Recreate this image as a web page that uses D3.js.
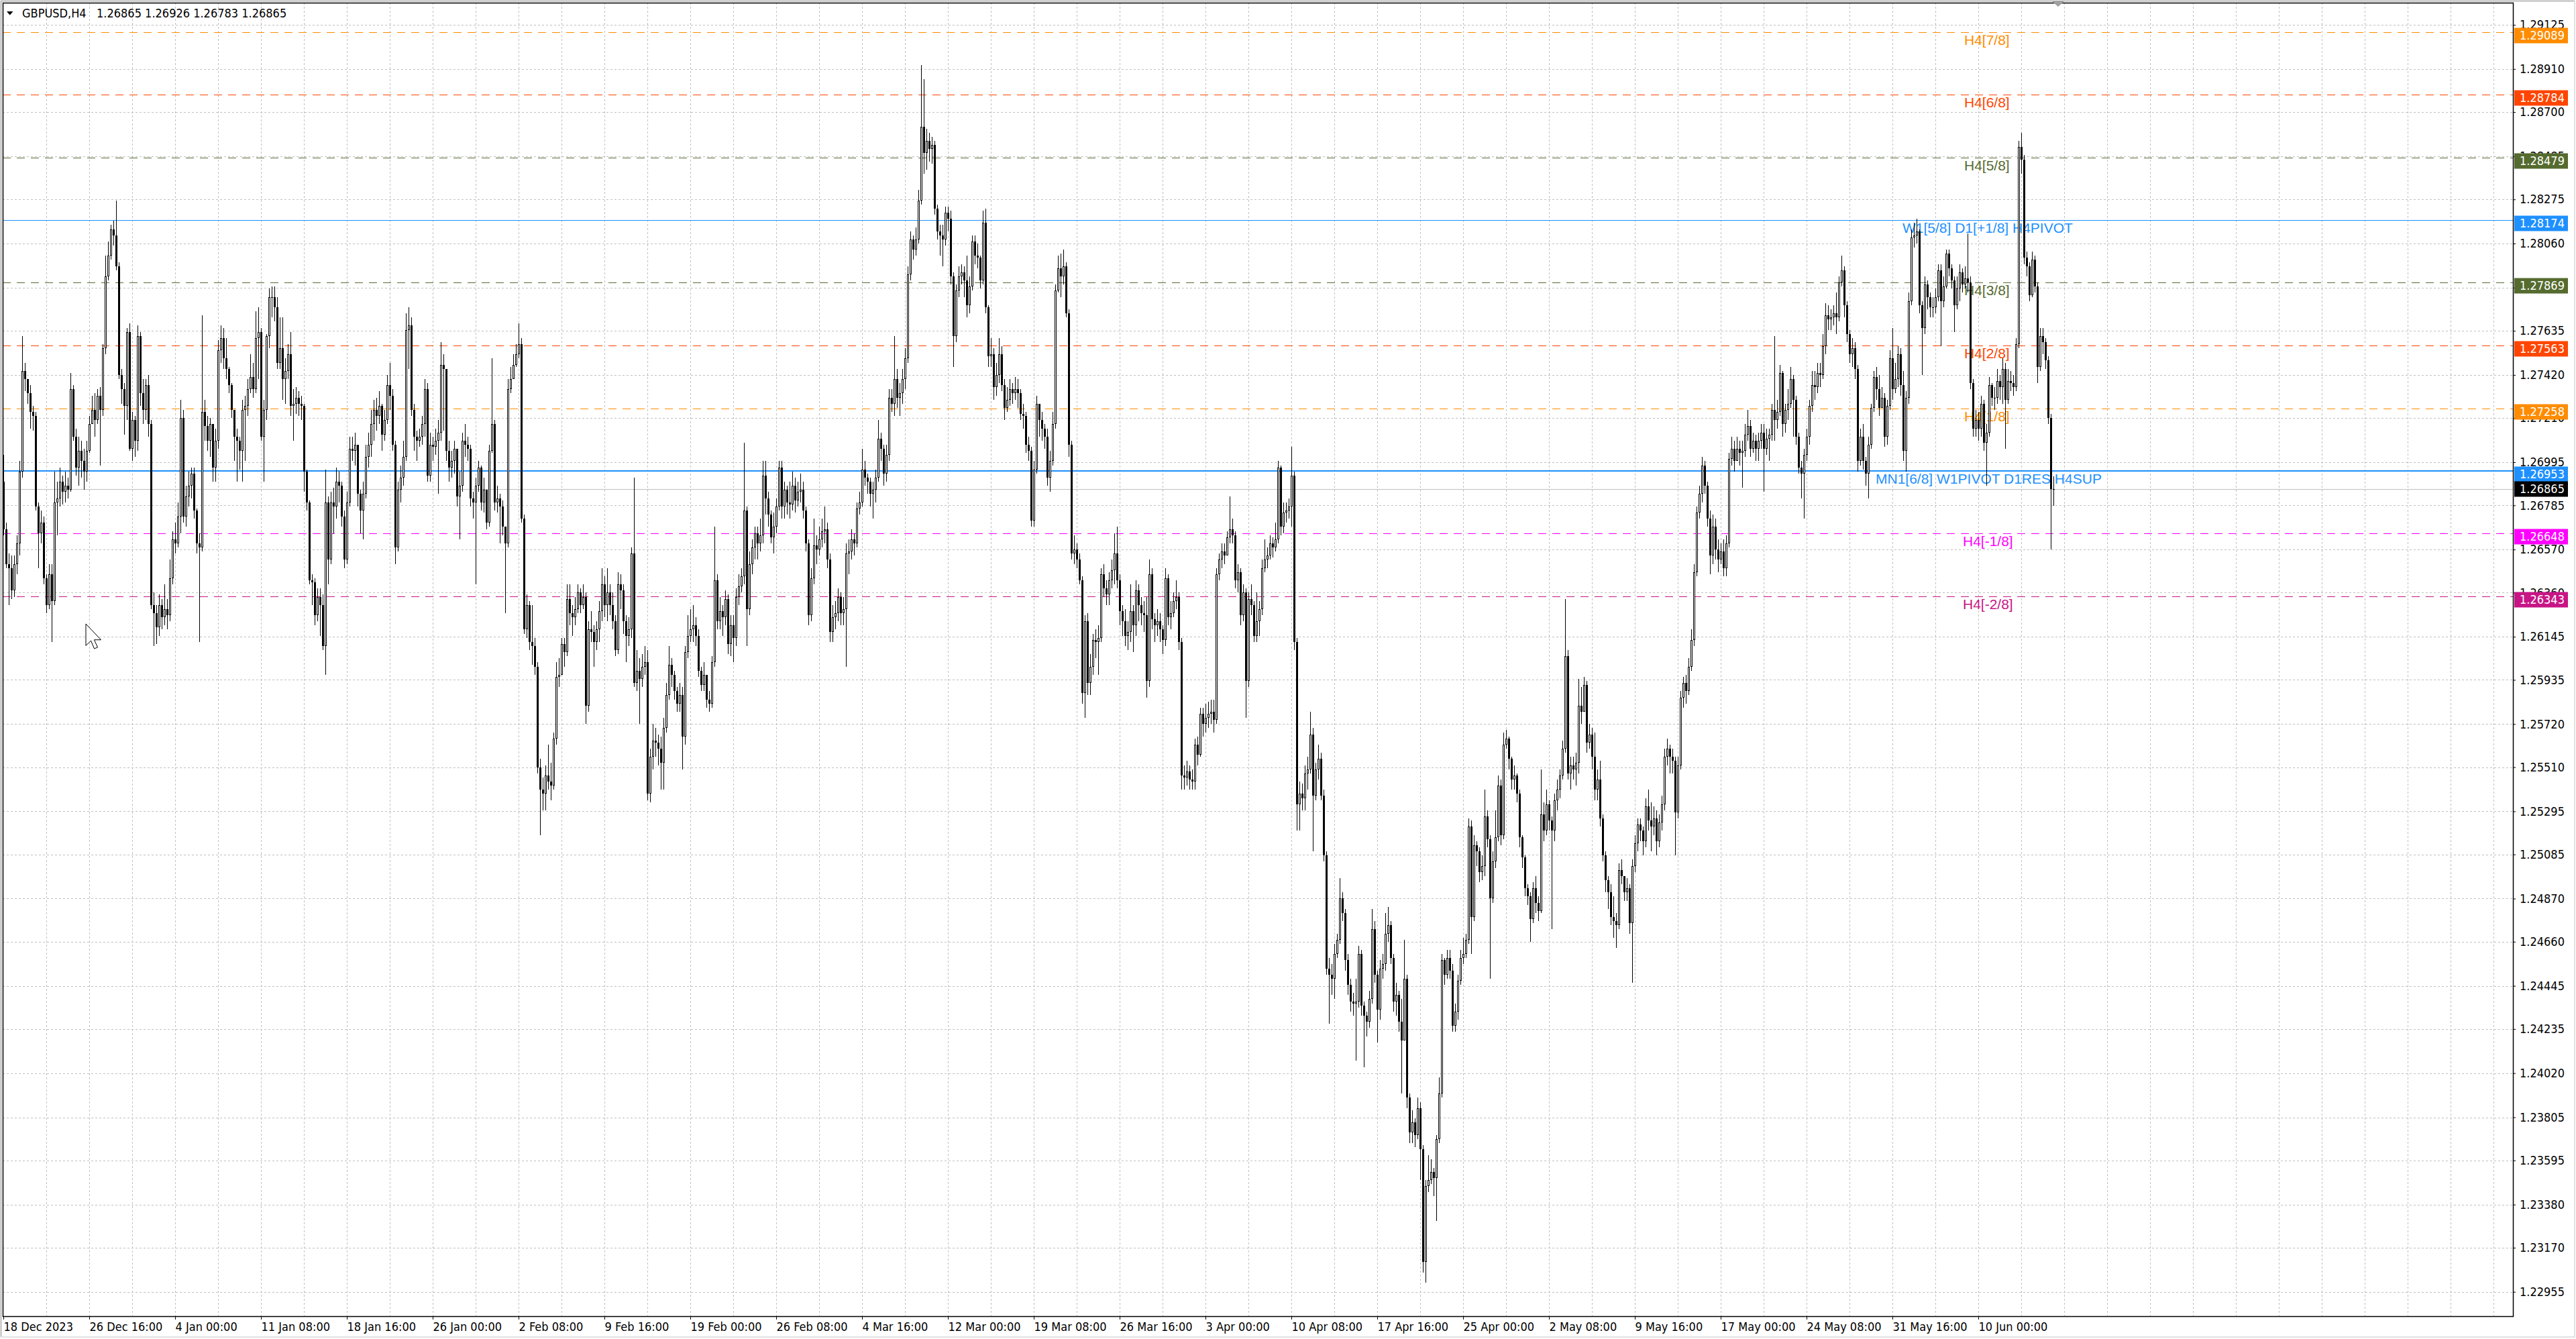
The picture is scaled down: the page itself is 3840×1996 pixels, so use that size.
<!DOCTYPE html>
<html>
<head>
<meta charset="utf-8">
<script src="https://cdn.jsdelivr.net/npm/d3@7"></script>
<style>
html, body { margin: 0; padding: 0; background: #fff; }
svg { display: block; }
</style>
</head>
<body>
<svg id="chart" width="3840" height="1996"></svg>
<script>
// GBPUSD H4, values in pips above 1.2000 (1.2 + v / 10000)
// open of a bar = close of the bar before it
var firstOpen = 690;

var closes = [
667,650,648,637,650,660,695,744,740,733,
724,722,678,665,670,643,630,645,632,680,
682,690,685,688,686,735,712,697,705,700,
695,705,718,725,720,732,725,755,790,800,
813,810,795,742,735,727,763,706,720,710,
761,733,725,737,718,630,626,619,630,624,
628,625,643,662,660,673,721,673,683,688,
694,676,660,658,724,717,710,718,697,710,
754,760,750,745,737,725,712,710,705,725,
727,735,741,735,760,763,712,725,761,780,
780,775,748,755,740,744,752,727,728,731,
728,727,695,680,642,641,625,634,630,610,
680,652,680,678,690,688,673,652,680,706,
705,708,684,676,684,702,708,718,725,722,
727,713,720,737,732,708,658,686,692,702,
764,766,725,712,710,712,718,735,693,708,
707,710,714,747,745,705,697,700,706,683,
688,710,708,706,682,680,688,697,680,686,
670,705,718,680,682,678,668,660,735,740,
747,752,757,672,618,630,612,610,600,551,
540,538,547,544,542,565,595,596,611,607,
633,626,624,628,636,630,634,581,618,617,
612,618,627,640,630,636,630,622,608,640,
637,622,615,618,655,592,598,594,600,602,
538,556,564,563,560,553,570,586,601,596,
588,582,586,566,607,615,618,620,615,598,
591,596,584,582,602,642,622,627,624,633,
611,620,614,634,639,644,676,628,650,658,
665,660,664,693,682,674,663,668,678,697,
678,686,680,679,688,681,685,686,676,660,
625,643,659,657,662,666,667,652,617,624,
626,634,626,628,655,656,662,660,677,680,
696,692,690,684,686,692,711,706,694,703,
731,728,740,731,733,740,750,791,808,803,
808,827,863,850,856,852,854,823,812,810,
808,821,818,790,761,783,790,792,788,776,
785,807,800,799,788,816,775,751,752,736,
742,752,737,726,730,735,733,735,733,723,
722,708,705,671,696,728,720,716,712,692,
700,718,783,794,790,795,772,708,655,657,
652,642,587,622,592,600,613,612,614,645,
638,635,642,647,655,642,627,622,615,617,
627,620,637,630,626,625,593,645,623,620,
622,618,613,643,624,626,632,634,612,547,
546,549,545,544,562,557,577,572,575,577,
578,574,645,652,656,654,663,667,664,642,
646,625,636,593,633,630,615,622,628,648,
652,654,660,658,662,697,668,675,676,678,
693,612,533,538,536,548,550,567,537,550,
555,537,508,453,450,448,460,467,487,480,
457,445,437,436,437,460,435,430,427,438,
472,450,433,453,455,470,474,458,437,440,
427,418,448,390,373,378,372,385,365,310,
347,350,354,351,370,392,457,450,458,452,
425,432,447,458,460,467,522,478,513,510,
500,503,527,516,487,505,517,542,518,562,
565,555,545,547,538,517,507,492,488,477,
492,485,481,528,520,533,525,520,535,540,
547,560,605,548,552,550,553,581,578,591,
563,567,556,540,545,526,508,496,490,478,
476,474,501,498,490,492,475,503,514,523,
520,515,532,525,522,526,515,524,533,556,
560,556,554,529,552,585,592,588,600,613,
646,675,684,698,688,672,654,668,657,652,
656,648,660,701,706,700,706,704,705,713,
717,706,710,706,710,714,706,711,713,725,
720,724,743,718,725,728,740,730,712,697,
694,703,712,727,737,736,743,742,756,771,
769,770,772,770,787,793,776,762,752,755,
745,700,712,700,694,708,726,741,735,726,
731,712,727,750,735,740,752,737,705,731,
778,809,810,812,776,765,786,780,775,775,
780,793,778,785,801,794,788,776,784,792,
786,789,787,738,716,720,716,728,709,714,
737,731,731,739,736,745,730,739,738,736,
757,853,847,799,795,781,798,785,746,761,
758,749,721,686.5,686.5
];

var highs = [
703,670,655,654,654,664,700,761,748,740,
737,727,724,680,676,673,645,650,650,695,
690,697,693,695,692,743,737,716,712,710,
706,710,722,732,733,735,736,757,800,807,
815,817,827,797,745,738,765,767,724,722,
766,763,740,740,742,720,636,630,635,633,
640,633,652,666,670,680,730,725,688,695,
697,697,677,665,771,730,722,721,718,716,
759,766,765,760,746,738,722,716,712,730,
732,740,752,748,773,775,765,730,762,784,
785,785,780,770,770,750,757,763,735,736,
734,732,728,696,681,645,643,638,638,635,
696,683,685,687,697,695,690,676,685,712,
712,714,700,686,690,708,714,725,730,731,
734,728,725,742,748,735,710,690,698,710,
772,775,770,728,715,716,722,740,738,714,
712,716,720,758,752,740,710,705,710,700,
695,714,718,712,708,685,692,700,698,692,
680,708,750,720,688,684,681,668,740,746,
752,757,767,760,674,635,632,630,614,602,
555,546,552,562,553,568,602,604,614,614,
640,640,630,634,640,638,640,636,622,627,
620,622,632,648,644,648,640,636,625,646,
645,640,625,624,658,692,608,604,606,610,
608,560,572,570,567,566,575,592,610,604,
598,590,592,590,610,625,628,630,624,618,
600,602,592,588,605,668,645,634,630,637,
635,625,625,638,645,648,709,678,656,662,
668,668,672,700,700,685,676,675,682,700,
700,690,688,690,695,692,690,694,690,678,
662,648,672,664,668,672,678,670,655,630,
632,638,636,634,660,662,667,665,680,685,
706,700,694,692,690,696,720,714,708,708,
735,735,761,745,738,745,755,795,812,810,
814,832,893,886,862,860,858,856,825,815,
815,824,824,822,792,786,795,796,795,800,
790,810,810,806,800,822,823,776,760,755,
748,760,756,740,736,740,738,741,740,735,
728,724,712,707,700,732,728,724,718,716,
705,724,786,800,801,803,797,774,710,664,
660,655,644,625,626,606,616,618,620,648,
650,642,646,652,665,668,645,630,628,622,
640,630,642,640,634,632,634,652,648,626,
628,626,620,648,645,632,636,642,636,614,
552,554,552,550,565,566,580,580,582,583,
584,584,648,655,660,660,666,683,672,666,
650,648,640,638,636,640,632,636,632,652,
662,658,664,663,670,700,698,680,680,682,
707,695,614,544,543,552,556,578,570,553,
562,558,540,510,458,455,465,470,497,490,
482,460,448,441,448,464,462,437,432,442,
482,476,452,457,460,480,483,476,460,446,
442,438,467,450,392,384,380,390,388,367,
350,362,360,356,372,400,460,458,462,462,
455,436,450,462,468,470,526,525,518,515,
512,508,540,530,518,510,530,547,545,568,
569,566,556,552,548,540,518,508,494,490,
495,498,488,550,534,540,535,527,538,545,
550,564,633,608,556,556,558,594,590,595,
593,572,570,568,550,554,528,510,498,494,
488,480,504,506,498,497,494,506,518,526,
526,522,536,540,534,532,530,528,537,560,
565,562,560,556,556,588,595,596,604,618,
650,678,688,702,700,690,676,674,672,662,
660,662,664,704,712,710,712,710,710,718,
725,720,714,713,714,718,718,716,716,728,
761,730,747,744,728,735,746,742,732,714,
700,706,716,730,744,744,748,748,762,777,
776,774,776,782,790,800,795,778,764,760,
758,747,716,718,702,712,728,744,746,742,
736,733,730,754,765,748,756,755,744,734,
782,813,816,818,813,778,790,788,782,780,
784,796,796,790,803,803,796,790,790,796,
794,795,811,790,740,725,724,732,730,718,
741,738,736,745,742,750,748,745,744,742,
760,856,860,849,802,797,802,800,787,765,
765,760,751,723,692.6
];

var lows = [
664,648,630,633,634,645,654,692,734,728,
716,715,676,648,660,640,626,628,612,630,
664,678,679,680,682,685,710,693,688,692,
686,690,704,718,712,718,698,722,752,788,
798,805,793,740,728,713,720,705,700,702,
705,727,718,720,712,628,610,611,615,618,
620,618,622,640,655,658,665,670,668,678,
682,672,655,612,656,710,705,702,690,690,
706,748,745,740,733,721,700,690,696,690,
700,722,733,731,733,740,710,690,720,755,
770,768,745,745,730,728,740,722,710,723,
722,720,685,676,640,630,620,622,615,608,
596,640,650,665,672,680,668,648,650,678,
700,698,678,665,662,682,697,702,710,715,
718,705,710,718,725,705,650,656,680,688,
700,745,722,705,700,707,708,712,690,690,
700,703,684,710,715,700,690,692,694,678,
662,685,702,700,678,672,640,685,676,675,
667,668,704,676,675,660,664,626,658,733,
740,746,750,670,616,614,608,601,596,548,
518,530,530,540,535,540,562,590,596,600,
605,620,615,620,626,626,628,572,578,612,
600,608,612,622,624,622,625,618,605,606,
628,616,602,610,614,590,588,572,590,596,
535,534,550,556,552,540,540,568,584,590,
584,578,578,550,562,604,612,612,610,595,
588,588,580,578,580,600,618,618,615,620,
606,605,602,610,630,636,640,610,625,645,
652,652,656,660,674,668,660,655,665,676,
672,672,674,672,676,675,678,680,672,656,
620,622,640,650,654,658,660,648,612,612,
618,622,620,620,600,645,652,654,658,674,
678,688,684,678,672,680,690,700,688,690,
700,724,722,726,722,728,735,748,788,798,
800,806,825,840,842,846,845,820,808,800,
795,805,812,786,746,758,780,786,780,770,
772,783,796,794,784,786,772,746,746,730,
732,738,734,720,724,727,728,730,726,720,
716,704,700,668,668,694,712,710,706,688,
685,698,716,782,780,786,770,702,652,650,
648,640,582,575,586,586,596,604,596,612,
634,630,630,638,640,638,620,615,610,608,
612,607,615,622,620,617,585,590,618,612,
615,612,606,610,620,618,624,628,608,540,
540,542,540,540,540,552,556,566,568,570,
572,568,572,642,648,650,654,660,660,638,
636,620,622,575,590,625,612,612,615,625,
646,648,652,653,656,660,664,665,670,672,
668,608,520,520,530,530,540,548,510,535,
545,535,505,450,426,440,438,458,465,476,
452,440,432,430,408,434,430,405,420,424,
436,446,417,428,448,452,466,455,432,430,
422,392,430,385,368,368,366,370,350,305,
300,344,348,342,330,368,390,445,448,448,
422,422,428,445,455,458,465,460,476,503,
495,496,498,512,448,485,502,515,513,516,
560,550,540,540,534,512,502,488,484,466,
475,480,476,480,515,518,520,472,515,530,
536,545,558,545,540,545,542,548,572,578,
558,560,550,535,535,522,505,490,482,474,
468,463,472,494,486,486,470,446,500,510,
515,508,512,520,510,518,508,512,520,530,
552,548,548,508,526,550,580,582,586,598,
610,644,672,680,684,668,645,650,652,646,
650,644,644,658,698,695,700,698,687,702,
710,702,704,700,700,706,685,703,700,710,
710,716,722,712,714,720,726,712,708,694,
682,672,700,708,724,730,733,736,740,752,
764,764,766,762,768,785,770,758,748,746,
740,695,698,696,688,682,706,724,730,722,
726,707,708,725,730,733,736,732,700,695,
728,776,804,806,772,742,762,774,770,770,
772,778,756,775,784,790,784,763,774,778,
782,784,782,735,712,712,710,712,705,688,
712,727,725,728,730,728,706,728,734,732,
734,755,840,796,790,778,780,782,738,744,
752,745,718,657,678.3
];

// bottom axis labels, one every 32 bars
var timeLabels = ["18 Dec 2023", "26 Dec 16:00", "4 Jan 00:00", "11 Jan 08:00", "18 Jan 16:00",
    "26 Jan 00:00", "2 Feb 08:00", "9 Feb 16:00", "19 Feb 00:00", "26 Feb 08:00", "4 Mar 16:00",
    "12 Mar 00:00", "19 Mar 08:00", "26 Mar 16:00", "3 Apr 00:00", "10 Apr 08:00", "17 Apr 16:00",
    "25 Apr 00:00", "2 May 08:00", "9 May 16:00", "17 May 00:00", "24 May 08:00", "31 May 16:00",
    "10 Jun 00:00"];

var priceTicks = [1.29125, 1.28910, 1.28700, 1.28485, 1.28275, 1.28060, 1.27845, 1.27635,
    1.27420, 1.27210, 1.26995, 1.26785, 1.26570, 1.26360, 1.26145, 1.25935, 1.25720, 1.25510,
    1.25295, 1.25085, 1.24870, 1.24660, 1.24445, 1.24235, 1.24020, 1.23805, 1.23595, 1.23380,
    1.23170, 1.22955];

// murrey / pivot levels drawn as horizontal lines
var levelNames = ["H4[7/8]", "H4[6/8]", "H4[5/8]", "W1[5/8] D1[+1/8] H4PIVOT", "H4[3/8]",
    "H4[2/8]", "H4[1/8]", "MN1[6/8] W1PIVOT D1RES H4SUP", "H4[-1/8]", "H4[-2/8]"];
var levelPrices = [1.29089, 1.28784, 1.28479, 1.28174, 1.27869, 1.27563, 1.27258, 1.26953,
    1.26648, 1.26343];

var bid = 1.26865;
var symbolText = "GBPUSD,H4";
var ohlcText = "1.26865 1.26926 1.26783 1.26865";

// styles for the levels (kept apart from the values)
var levelColors = ["#ff8c00", "#ff4500", "#556b2f", "#1e90ff", "#556b2f", "#ff4500", "#ff8c00",
    "#1e90ff", "#ff00ff", "#c71585"];
var levelSolid = [false, false, false, true, false, false, false, true, false, false];
var levelWidth = [1, 1, 1, 1, 1, 1, 1, 2, 1, 1];
var labelLeft = [2928, 2928, 2928, 2836, 2928, 2928, 2928, 2796, 2926, 2926];

var axisFont = "Tahoma, 'DejaVu Sans Condensed', 'Liberation Sans', Arial, sans-serif";
var labelFont = "'Liberation Sans', Arial, sans-serif";

var svg = d3.select("#chart");
var plot = {x0: 4, y0: 4, x1: 3746, y1: 1962};

function toPrice(v) {
    return 1.2 + v / 10000;
}

var bars = closes.map(function(c, i) {
    return {
        i: i,
        o: toPrice(i === 0 ? firstOpen : closes[i - 1]),
        h: toPrice(highs[i]),
        l: toPrice(lows[i]),
        c: toPrice(c)
    };
});

// 4 px per bar
var x = d3.scaleLinear().domain([0, bars.length - 1]).range([5, 5 + 4 * (bars.length - 1)]);
var y = d3.scaleLinear()
    .domain([priceTicks[priceTicks.length - 1], priceTicks[0]])
    .range([1925.7, 37]);

svg.append("rect").attr("width", 3840).attr("height", 1996).attr("fill", "#fff");

svg.append("defs").append("clipPath").attr("id", "plotclip")
    .append("rect")
    .attr("x", plot.x0).attr("y", plot.y0)
    .attr("width", plot.x1 - plot.x0).attr("height", plot.y1 - plot.y0);

// grid
var grid = svg.append("g")
    .attr("stroke", "#c0c0c0")
    .attr("stroke-width", 1)
    .attr("stroke-dasharray", "3,3")
    .attr("shape-rendering", "crispEdges");

grid.selectAll(".hgrid").data(priceTicks).enter().append("line")
    .attr("class", "hgrid")
    .attr("x1", plot.x0).attr("x2", plot.x1)
    .attr("y1", d => Math.round(y(d)) + 0.5)
    .attr("y2", d => Math.round(y(d)) + 0.5);

grid.selectAll(".vgrid").data(d3.range(16, 936, 16)).enter().append("line")
    .attr("class", "vgrid")
    .attr("x1", d => x(d) + 0.5).attr("x2", d => x(d) + 0.5)
    .attr("y1", plot.y0).attr("y2", plot.y1);

// levels
var levels = levelPrices.map(function(p, k) {
    return {name: levelNames[k], price: p, k: k};
});

var lineG = svg.append("g").attr("clip-path", "url(#plotclip)").attr("shape-rendering", "crispEdges");

lineG.append("line")
    .attr("x1", plot.x0).attr("x2", plot.x1)
    .attr("y1", Math.round(y(bid)) + 0.5).attr("y2", Math.round(y(bid)) + 0.5)
    .attr("stroke", "#c0c0c0");

lineG.selectAll(".level").data(levels).enter().append("line")
    .attr("class", "level")
    .attr("x1", plot.x0).attr("x2", plot.x1)
    .attr("y1", d => Math.round(y(d.price)) + (levelWidth[d.k] === 1 ? 0.5 : 0))
    .attr("y2", d => Math.round(y(d.price)) + (levelWidth[d.k] === 1 ? 0.5 : 0))
    .attr("stroke", d => levelColors[d.k])
    .attr("stroke-width", d => levelWidth[d.k])
    .attr("stroke-dasharray", d => levelSolid[d.k] ? null : "12,9");

svg.append("g").selectAll("text").data(levels).enter().append("text")
    .attr("x", d => labelLeft[d.k])
    .attr("y", d => y(d.price) + 19)
    .attr("fill", d => levelColors[d.k])
    .attr("font-family", labelFont)
    .attr("font-size", 21)
    .text(d => d.name);

// candles
var candles = svg.append("g")
    .attr("clip-path", "url(#plotclip)")
    .attr("shape-rendering", "crispEdges");

var bar = candles.selectAll(".bar").data(bars).enter().append("g").attr("class", "bar");

function bodyTop(d) { return Math.round(y(Math.max(d.o, d.c))); }
function bodyBottom(d) { return Math.round(y(Math.min(d.o, d.c))); }

bar.append("rect")
    .attr("x", d => x(d.i))
    .attr("width", 1)
    .attr("y", d => Math.round(y(Math.max(d.h, d.o, d.c))))
    .attr("height", d => Math.max(1, Math.round(y(Math.min(d.l, d.o, d.c))) - Math.round(y(Math.max(d.h, d.o, d.c)))))
    .attr("fill", "#000");

bar.append("rect")
    .attr("x", d => x(d.i) - 1)
    .attr("width", 3)
    .attr("y", bodyTop)
    .attr("height", d => Math.max(1, bodyBottom(d) - bodyTop(d)))
    .attr("fill", "#000");

bar.filter(d => d.c > d.o && bodyBottom(d) - bodyTop(d) > 2).append("rect")
    .attr("x", d => x(d.i))
    .attr("width", 1)
    .attr("y", d => bodyTop(d) + 1)
    .attr("height", d => bodyBottom(d) - bodyTop(d) - 2)
    .attr("fill", "#fff");

// price axis
var yAxis = d3.axisRight(y)
    .tickValues(priceTicks)
    .tickFormat(d3.format(".5f"))
    .tickSize(4)
    .tickPadding(6);

svg.append("g")
    .attr("transform", "translate(" + plot.x1 + ",0)")
    .call(yAxis)
    .call(g => g.select(".domain").remove())
    .attr("font-family", axisFont)
    .attr("font-size", 18)
    .call(g => g.selectAll("text").attr("fill", "#000"));

// time axis
var xAxis = d3.axisBottom(x)
    .tickValues(timeLabels.map((t, k) => k * 32))
    .tickFormat((d, k) => timeLabels[k])
    .tickSize(5)
    .tickPadding(4);

svg.append("g")
    .attr("transform", "translate(0," + plot.y1 + ")")
    .call(xAxis)
    .call(g => g.select(".domain").remove())
    .attr("font-family", axisFont)
    .attr("font-size", 18)
    .call(g => g.selectAll("text").attr("text-anchor", "start").attr("x", 0).attr("fill", "#000"));

// price tags on the axis (level tags sit a little below their line)
var tags = levels.map(d => ({price: d.price, color: levelColors[d.k], shift: 5}));
tags.push({price: bid, color: "#000", shift: 0});

var tag = svg.append("g").selectAll("g").data(tags).enter().append("g")
    .attr("transform", d => "translate(3748," + (Math.round(y(d.price)) + d.shift) + ")");

tag.append("rect")
    .attr("x", 0).attr("y", -11.5)
    .attr("width", 80).attr("height", 23)
    .attr("fill", d => d.color);

tag.append("text")
    .attr("x", 8).attr("dy", "0.36em")
    .attr("fill", "#fff")
    .attr("font-family", axisFont)
    .attr("font-size", 18)
    .text(d => d3.format(".5f")(d.price));

// frame
svg.append("rect")
    .attr("x", plot.x0 + 0.5).attr("y", plot.y0 + 0.5)
    .attr("width", plot.x1 - plot.x0).attr("height", plot.y1 - plot.y0)
    .attr("fill", "none").attr("stroke", "#000").attr("stroke-width", 1.5);

svg.append("path").attr("d", "M1.5,1993 V1.5 H3838").attr("fill", "none").attr("stroke", "#a8a8a8").attr("stroke-width", 1.5);
svg.append("path").attr("d", "M3838,1.5 V1993 H1.5").attr("fill", "none").attr("stroke", "#e2e2e2").attr("stroke-width", 2);

// chart shift marker
svg.append("path").attr("d", "M3059,2 L3077,2 L3068,10 Z").attr("fill", "#a0a0a0");

// header
svg.append("path").attr("d", "M10,17 L19.5,17 L14.75,22.5 Z").attr("fill", "#000");
var head = svg.append("text").attr("y", 26).attr("font-family", axisFont).attr("font-size", 18).attr("fill", "#000");
head.append("tspan").attr("x", 33).text(symbolText);
head.append("tspan").attr("x", 144).text(ohlcText);

// mouse pointer
svg.append("path")
    .attr("d", "M0,0 L0,26 L6,20 L10,29.5 L14,28 L10,19 L18,19 Z")
    .attr("transform", "translate(128,930) scale(1.25)")
    .attr("fill", "#fff")
    .attr("stroke", "#000")
    .attr("stroke-width", 0.8)
    .attr("stroke-linejoin", "miter");

if (closes.length !== highs.length || closes.length !== lows.length) {
    svg.append("text").attr("x", 400).attr("y", 400).attr("font-size", 40).attr("fill", "red")
        .text("length mismatch " + closes.length + " " + highs.length + " " + lows.length);
}
</script>
</body>
</html>
